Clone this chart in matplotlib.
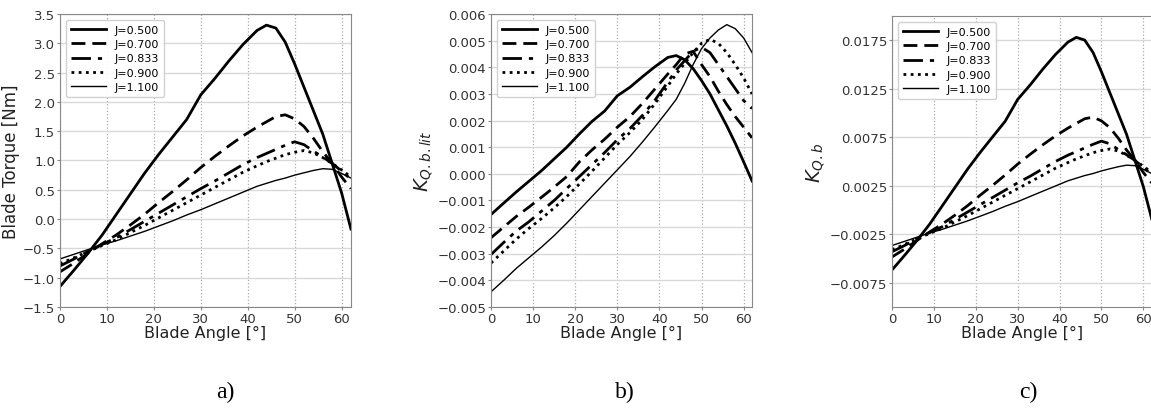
import matplotlib
matplotlib.use("Agg")
import matplotlib.pyplot as plt

# blade angle [deg]
angle = [0, 3, 6, 9, 12, 15, 18, 21, 24, 27, 30, 33, 36, 39, 42, 44, 46, 48, 50, 52, 54, 56, 58, 60, 62]
j_labels = ["J=0.500", "J=0.700", "J=0.833", "J=0.900", "J=1.100"]

# a) blade torque [Nm]
torque_j050 = [-1.15, -0.87, -0.58, -0.27, 0.08, 0.43, 0.78, 1.10, 1.40, 1.70, 2.12, 2.40, 2.70, 2.98, 3.22, 3.31, 3.26, 3.02, 2.65, 2.25, 1.85, 1.45, 0.95, 0.45, -0.17]
torque_j070 = [-0.90, -0.75, -0.58, -0.42, -0.27, -0.10, 0.08, 0.28, 0.47, 0.67, 0.88, 1.07, 1.25, 1.42, 1.57, 1.66, 1.75, 1.78, 1.71, 1.58, 1.38, 1.15, 0.95, 0.72, 0.52]
torque_j083 = [-0.80, -0.68, -0.55, -0.43, -0.32, -0.18, -0.04, 0.10, 0.24, 0.38, 0.52, 0.65, 0.79, 0.93, 1.05, 1.12, 1.19, 1.26, 1.32, 1.27, 1.16, 1.06, 0.95, 0.82, 0.68]
torque_j090 = [-0.76, -0.66, -0.55, -0.45, -0.35, -0.23, -0.11, 0.02, 0.15, 0.28, 0.41, 0.54, 0.67, 0.80, 0.91, 0.98, 1.04, 1.10, 1.14, 1.17, 1.13, 1.05, 0.95, 0.84, 0.72]
torque_j110 = [-0.68, -0.60, -0.52, -0.44, -0.37, -0.29, -0.21, -0.12, -0.03, 0.07, 0.16, 0.26, 0.36, 0.46, 0.56, 0.61, 0.66, 0.70, 0.75, 0.79, 0.83, 0.86, 0.85, 0.78, 0.70]

# b) K_Q,b,lit
kqlit_j050 = [-0.00153, -0.00110, -0.00068, -0.00028, 0.00012, 0.00056, 0.00100, 0.00150, 0.00197, 0.00236, 0.00293, 0.00325, 0.00365, 0.00403, 0.00437, 0.00444, 0.00428, 0.00395, 0.00350, 0.00300, 0.00240, 0.00180, 0.00115, 0.00045, -0.00027]
kqlit_j070 = [-0.00240, -0.00200, -0.00160, -0.00125, -0.00088, -0.00050, -0.00010, 0.00045, 0.00090, 0.00130, 0.00175, 0.00215, 0.00265, 0.00320, 0.00375, 0.00410, 0.00450, 0.00460, 0.00410, 0.00365, 0.00310, 0.00260, 0.00215, 0.00175, 0.00135]
kqlit_j083 = [-0.00303, -0.00258, -0.00215, -0.00180, -0.00140, -0.00100, -0.00055, -0.00010, 0.00035, 0.00080, 0.00128, 0.00170, 0.00220, 0.00278, 0.00345, 0.00390, 0.00425, 0.00460, 0.00475, 0.00455, 0.00410, 0.00365, 0.00320, 0.00275, 0.00245]
kqlit_j090 = [-0.00335, -0.00290, -0.00245, -0.00205, -0.00168, -0.00128, -0.00085, -0.00038, 0.00010, 0.00060, 0.00110, 0.00155, 0.00205, 0.00265, 0.00330, 0.00375, 0.00415, 0.00455, 0.00490, 0.00505, 0.00490, 0.00455, 0.00410, 0.00360, 0.00300]
kqlit_j110 = [-0.00443, -0.00400, -0.00355, -0.00315, -0.00275, -0.00232, -0.00185, -0.00135, -0.00085, -0.00035, 0.00015, 0.00065, 0.00120, 0.00178, 0.00238, 0.00280, 0.00340, 0.00410, 0.00470, 0.00510, 0.00540, 0.00560, 0.00545, 0.00510, 0.00455]

# c) K_Q,b
kqb_j050 = [-0.00618, -0.00468, -0.00312, -0.00145, 0.00043, 0.00231, 0.00419, 0.00591, 0.00753, 0.00914, 0.01140, 0.01290, 0.01452, 0.01602, 0.01731, 0.01780, 0.01752, 0.01624, 0.01425, 0.01210, 0.00995, 0.00780, 0.00511, 0.00242, -0.00091]
kqb_j070 = [-0.00484, -0.00403, -0.00312, -0.00226, -0.00145, -0.00054, 0.00043, 0.00151, 0.00253, 0.00360, 0.00473, 0.00575, 0.00672, 0.00763, 0.00844, 0.00892, 0.00941, 0.00957, 0.00919, 0.00849, 0.00742, 0.00618, 0.00511, 0.00387, 0.00280]
kqb_j083 = [-0.00430, -0.00366, -0.00296, -0.00231, -0.00172, -0.00097, -0.00022, 0.00054, 0.00129, 0.00204, 0.00280, 0.00349, 0.00425, 0.00500, 0.00565, 0.00602, 0.00640, 0.00677, 0.00710, 0.00683, 0.00624, 0.00570, 0.00511, 0.00441, 0.00366]
kqb_j090 = [-0.00409, -0.00355, -0.00296, -0.00242, -0.00188, -0.00124, -0.00059, 0.00011, 0.00081, 0.00151, 0.00220, 0.00290, 0.00360, 0.00430, 0.00489, 0.00527, 0.00559, 0.00591, 0.00613, 0.00629, 0.00608, 0.00565, 0.00511, 0.00452, 0.00387]
kqb_j110 = [-0.00366, -0.00323, -0.00280, -0.00237, -0.00199, -0.00156, -0.00113, -0.00065, -0.00016, 0.00038, 0.00086, 0.00140, 0.00194, 0.00247, 0.00301, 0.00328, 0.00355, 0.00376, 0.00403, 0.00425, 0.00446, 0.00462, 0.00457, 0.00419, 0.00376]

styles = [
    dict(ls="-", lw=2.0),
    dict(ls=(0, (5, 2.5)), lw=2.0),
    dict(ls=(0, (7, 2.5, 1.5, 2.5)), lw=2.0),
    dict(ls=(0, (1, 1.6)), lw=2.0),
    dict(ls="-", lw=1.0),
]

plt.rcParams['font.family'] = ['DejaVu Sans']

fig = plt.figure(figsize=(11.51, 4.10), dpi=100)
ax_a = fig.add_axes([0.0521, 0.2488, 0.2528, 0.7146])
ax_b = fig.add_axes([0.4266, 0.2488, 0.2268, 0.7146])
ax_c = fig.add_axes([0.7750, 0.2488, 0.2256, 0.7097])


def draw(ax, series, ylabel, ylim, ylabel_size=12):
    for ys, lab, st in zip(series, j_labels, styles):
        ax.plot(angle, ys, color="black", label=lab, **st)
    ax.set_xlim(0, 62)
    ax.set_ylim(*ylim)
    ax.set_xticks([0, 10, 20, 30, 40, 50, 60])
    ax.grid(True, axis="y", color="#d9d9d9", lw=1.0, ls="-")
    ax.grid(True, axis="x", color="#aaaaaa", lw=0.9, ls=":")
    ax.set_axisbelow(True)
    for sp in ax.spines.values():
        sp.set_color("#888888")
    ax.tick_params(labelsize=9.5, colors="#888888", labelcolor="#333333", length=2.5, pad=1.0)
    ax.set_xlabel("Blade Angle [°]", fontsize=11.5, color="#222222", labelpad=0)
    ax.set_ylabel(ylabel, fontsize=ylabel_size, color="#222222", labelpad=2)
    ax.legend(loc="upper left", fontsize=8, handlelength=3.2, labelspacing=0.4,
              borderpad=0.45, framealpha=0.9, edgecolor="#cccccc", fancybox=True)


draw(ax_a, [torque_j050, torque_j070, torque_j083, torque_j090, torque_j110],
     "Blade Torque [Nm]", (-1.5, 3.5))
ax_a.set_yticks([-1.5, -1.0, -0.5, 0.0, 0.5, 1.0, 1.5, 2.0, 2.5, 3.0, 3.5])

draw(ax_b, [kqlit_j050, kqlit_j070, kqlit_j083, kqlit_j090, kqlit_j110],
     r"$K_{Q.b.lit}$", (-0.005, 0.006), ylabel_size=14)
ax_b.set_yticks([-0.005, -0.004, -0.003, -0.002, -0.001, 0.0, 0.001, 0.002, 0.003, 0.004, 0.005, 0.006])
ax_b.set_yticklabels(["\u22120.005", "\u22120.004", "\u22120.003", "\u22120.002", "\u22120.001", "0.000",
                      "0.001", "0.002", "0.003", "0.004", "0.005", "0.006"])

draw(ax_c, [kqb_j050, kqb_j070, kqb_j083, kqb_j090, kqb_j110],
     r"$K_{Q.b}$", (-0.01, 0.02), ylabel_size=14)
ax_c.set_yticks([-0.0075, -0.0025, 0.0025, 0.0075, 0.0125, 0.0175])
ax_c.set_yticklabels(["\u22120.0075", "\u22120.0025", "0.0025", "0.0075", "0.0125", "0.0175"])

for x, s in [(0.1955, "a)"), (0.543, "b)"), (0.893, "c)")]:
    fig.text(x, 0.042, s, ha="center", va="center", fontsize=17, family="Liberation Serif")

fig.savefig("out.png", dpi=100)
